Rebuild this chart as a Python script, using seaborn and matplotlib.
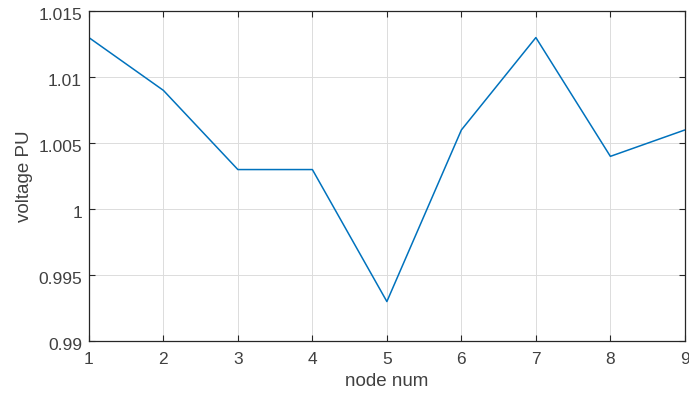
import matplotlib
matplotlib.use("Agg")
import matplotlib.pyplot as plt
import matplotlib.transforms as mtransforms
import seaborn as sns
import pandas as pd

node_num = [1, 2, 3, 4, 5, 6, 7, 8, 9]
voltage_pu = [1.013, 1.009, 1.003, 1.003, 0.993, 1.006, 1.013, 1.004, 1.006]
y_ticks = [0.99, 0.995, 1.0, 1.005, 1.01, 1.015]
y_tick_labels = ["0.99", "0.995", "1", "1.005", "1.01", "1.015"]

sns.set_theme(style="white")
plt.rcParams["font.family"] = ["Liberation Sans", "DejaVu Sans"]

df = pd.DataFrame({"node": node_num, "voltage": voltage_pu})

fig = plt.figure(figsize=(6.89, 3.99), dpi=100)
ax = fig.add_axes([0.129, 0.145, 0.865, 0.827])
sns.lineplot(data=df, x="node", y="voltage", ax=ax, color="#0072BD", linewidth=1.1)

ax.set_xlim(1, 9)
ax.set_ylim(0.99, 1.015)
ax.set_xticks(node_num)
ax.set_xticklabels([str(n) for n in node_num])
ax.set_yticks(y_ticks)
ax.set_yticklabels(y_tick_labels)

ax.grid(True, color="#dcdcdc", linewidth=0.7)
ax.set_axisbelow(True)
for side in ["top", "right", "bottom", "left"]:
    ax.spines[side].set_visible(True)
    ax.spines[side].set_color("#262626")
    ax.spines[side].set_linewidth(0.9)

text_color = "#404040"
ax.tick_params(axis="both", which="both", direction="in", length=4, width=0.8,
               top=True, right=True, bottom=True, left=True,
               colors="#262626", labelcolor=text_color, labelsize=12.5)
ax.tick_params(axis="x", pad=8)
ax.tick_params(axis="y", pad=5)

# y tick labels sit slightly below their ticks
shift = mtransforms.ScaledTranslation(0, -3 / 100, fig.dpi_scale_trans)
for lbl in ax.get_yticklabels():
    lbl.set_transform(lbl.get_transform() + shift)

ax.set_xlabel("node num", fontsize=13.5, color=text_color, labelpad=4)
ax.set_ylabel("voltage PU", fontsize=13.5, color=text_color, labelpad=4)

fig.savefig("out.png", dpi=100)
